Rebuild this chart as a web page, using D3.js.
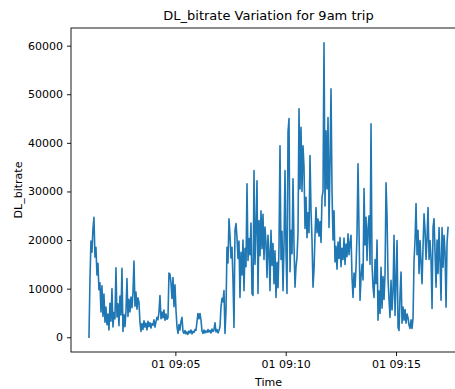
<!DOCTYPE html>
<html>
<head>
<meta charset="utf-8">
<script src="https://cdn.jsdelivr.net/npm/d3@7"></script>
<style>
  body { margin: 0; background: #fff; }
  svg { display: block; font-family: "DejaVu Sans", sans-serif; }
</style>
</head>
<body>
<div class="canvas"></div>
<script>
// samples of the 9am trip, one every ~2.7 s starting 09:01:05
const startTime = new Date(2023, 0, 1, 9, 1, 5);
const stepSeconds = 2.72;

const dlBitrate = [
  0, 11700, 19800, 17500, 22300, 24700, 16500, 18500, 12800, 15200,
  9800, 11200, 5200, 10600, 4300, 8900, 3100, 6200, 2600, 4800,
  1500, 7000, 3300, 10000, 2100, 5100, 3800, 14300, 4200, 6900,
  2400, 8500, 4600, 14200, 1200, 4700, 2200, 5300, 12100, 4300,
  7800, 5200, 8300, 6100, 9100, 15700, 6400, 9300, 5800, 8100,
  7200, 3100, 1200, 2800, 1600, 3400, 2100, 2900, 1500, 3300,
  2200, 3000, 1900, 2800, 2500, 3600, 2100, 3200, 4100, 3600,
  5200, 8600, 3800, 5200, 4000, 5600, 3500, 4800, 3700, 4000,
  13200, 13000, 11200, 8000, 12300, 6300, 10800, 5600, 2200, 800,
  2600, 1500, 3300, 4100, 1200, 800, 1400, 700, 1100, 600,
  1300, 900, 1500, 700, 1200, 1000, 1600, 1400, 3200, 4900,
  3800, 4900, 3600, 1300, 800, 1500, 900, 1300, 1000, 1600,
  1100, 1400, 900, 1700, 1200, 1500, 3000, 1100, 1600, 900,
  1400, 2200, 6200, 8000, 7300, 9600, 800, 5500, 18500, 15300,
  24400, 21000, 16300, 18500, 11800, 2000, 22000, 23400, 20500, 16200,
  19800, 8200, 17500, 12800, 20000, 9600, 18300, 14500, 31600, 15800,
  20300, 17000, 23500, 9000, 8600, 34300, 15000, 22600, 32200, 9000,
  24000, 16800, 26000, 18200, 25300, 16000, 22700, 19500, 12300, 21000,
  17600, 9600, 22000, 14800, 19300, 11000, 17800, 8200, 15400, 10200,
  18500, 39400, 16000, 21800, 9600, 19000, 34300, 17500, 9000, 42200,
  45000, 13500, 22000, 17200, 32600, 19000, 10300, 14500, 16500, 21500,
  47000, 30500, 43200, 30000, 39400, 35000, 22400, 28800, 20500, 25600,
  21500, 37400, 26000, 20000, 10300, 14000, 21000, 26700, 21500, 24300,
  20800, 23800, 19500, 28800, 30000, 60600, 27000, 42500, 30500, 45200,
  22600, 36000, 51100, 30000, 20000, 26000, 15500, 18700, 14000, 19600,
  16200, 20500, 14500, 18300, 16000, 20400, 15000, 19200, 16600, 21300,
  17000, 19500, 21000, 12300, 8200, 13200, 10300, 14400, 21300, 35700,
  22000, 7600, 12500, 15000, 11800, 30600, 19000, 24700, 15800, 22500,
  25000, 15000, 43900, 15000, 10300, 8200, 16000, 11000, 20000, 3500,
  9500, 4900, 14400, 6000, 12500, 7800, 13000, 31800, 25000, 12000,
  7800, 4100, 11700, 5600, 9400, 21000, 4500, 11700, 19900, 2000,
  1400, 8700, 13400, 2900, 6200, 3500, 5700, 2900, 4800, 4000,
  2500, 1800, 3600, 1800, 4000, 15800, 20000, 27500, 17000, 22000,
  13100, 19900, 15500, 11000, 18600, 25400, 22000, 16000, 20500, 26700,
  16000, 19900, 16000, 5900, 22600, 24400, 17500, 10300, 20000, 13100,
  22600, 15500, 7600, 22600, 14400, 21000, 17500, 6200, 19500, 22600
];

const yTicks = [0, 10000, 20000, 30000, 40000, 50000, 60000];
const xTicks = [
  new Date(2023, 0, 1, 9, 5),
  new Date(2023, 0, 1, 9, 10),
  new Date(2023, 0, 1, 9, 15)
];

draw_line_chart(dlBitrate);

function draw_line_chart(values){

    const width = 455, height = 389;
    // axes box; right edge runs past the picture like in the original
    const left = 71, right = 466, top = 28, bottom = 352;

    const svg = d3.select('.canvas')
        .append('svg')
        .attr('width', width)
        .attr('height', height)
        .style('overflow', 'hidden');

    const data = values.map((v, i) => ({
        time: new Date(startTime.getTime() + i * stepSeconds * 1000),
        value: v
    }));

    // matplotlib style 5% margins
    const tExt = d3.extent(data, d => d.time);
    const tPad = (tExt[1] - tExt[0]) * 0.05;
    const vExt = d3.extent(data, d => d.value);
    const vPad = (vExt[1] - vExt[0]) * 0.05;

    const x = d3.scaleTime()
        .domain([new Date(+tExt[0] - tPad), new Date(+tExt[1] + tPad)])
        .range([left, right]);

    const y = d3.scaleLinear()
        .domain([vExt[0] - vPad, vExt[1] + vPad])
        .range([bottom, top]);

    svg.append('clipPath').attr('id', 'plotclip')
        .append('rect')
        .attr('x', left).attr('y', top)
        .attr('width', right - left).attr('height', bottom - top);

    const line = d3.line()
        .x(d => x(d.time))
        .y(d => y(d.value));

    svg.append('path')
        .datum(data)
        .attr('clip-path', 'url(#plotclip)')
        .attr('fill', 'none')
        .attr('stroke', '#1f77b4')
        .attr('stroke-width', 1.6)
        .attr('stroke-linejoin', 'round')
        .attr('stroke-linecap', 'square')
        .attr('d', line);

    // axes
    const xAxis = d3.axisBottom(x)
        .tickValues(xTicks)
        .tickFormat(d3.timeFormat('%d %H:%M'))
        .tickSizeOuter(0)
        .tickSize(4)
        .tickPadding(4);

    const yAxis = d3.axisLeft(y)
        .tickValues(yTicks)
        .tickFormat(d3.format('d'))
        .tickSizeOuter(0)
        .tickSize(4)
        .tickPadding(4);

    const gx = svg.append('g')
        .attr('transform', `translate(0,${bottom})`)
        .call(xAxis);

    const gy = svg.append('g')
        .attr('transform', `translate(${left},0)`)
        .call(yAxis);

    [gx, gy].forEach(g => {
        g.select('.domain').remove();
        g.selectAll('.tick line').attr('stroke', '#000').attr('stroke-width', 0.9);
        g.selectAll('.tick text')
            .attr('fill', '#000')
            .style('font-size', '11px')
            .style('font-family', '"DejaVu Sans", sans-serif');
    });

    // spines
    svg.append('rect')
        .attr('x', left).attr('y', top)
        .attr('width', right - left).attr('height', bottom - top)
        .attr('fill', 'none')
        .attr('stroke', '#000')
        .attr('stroke-width', 0.9);

    svg.append('text')
        .attr('x', (left + right) / 2)
        .attr('y', 20)
        .attr('text-anchor', 'middle')
        .style('font-size', '13px')
        .text('DL_bitrate Variation for 9am trip');

    svg.append('text')
        .attr('x', (left + right) / 2)
        .attr('y', 386)
        .attr('text-anchor', 'middle')
        .style('font-size', '11px')
        .text('Time');

    svg.append('text')
        .attr('transform', `translate(22,${(top + bottom) / 2}) rotate(-90)`)
        .attr('text-anchor', 'middle')
        .style('font-size', '11px')
        .text('DL_bitrate');
}
</script>
</body>
</html>
